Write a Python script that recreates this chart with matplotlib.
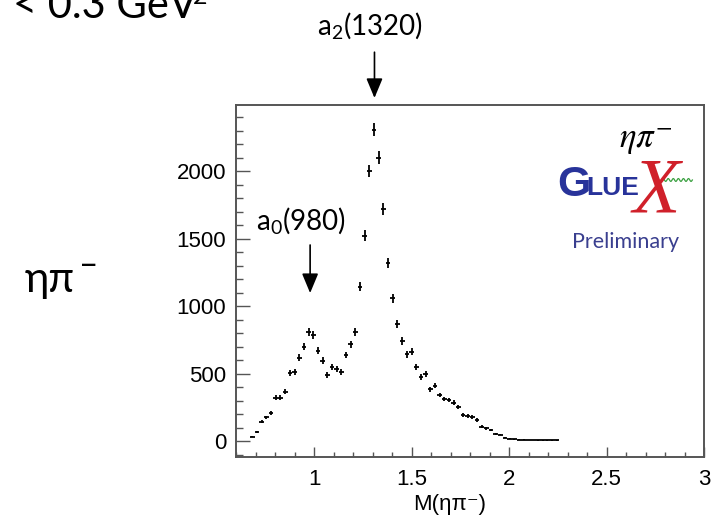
import numpy as np
import matplotlib
matplotlib.use("Agg")
import matplotlib.pyplot as plt

plt.rcParams['mathtext.fontset'] = 'custom'
plt.rcParams['mathtext.rm'] = 'Lato'
plt.rcParams['mathtext.it'] = 'Lato:italic'

# histogram binning: 100 bins over 0.6-3.0 GeV, filled bins 3..68
edges = np.linspace(0.6, 3.0, 101)
first_bin, last_bin = 3, 69
counts = [32, 69, 143, 175, 210, 321, 321, 365, 506, 513,
          617, 699, 810, 785, 669, 595, 489, 546, 533, 509,
          637, 716, 810, 1143, 1521, 2000, 2304, 2099, 1719, 1316,
          1057, 864, 741, 644, 662, 546, 472, 494, 383, 410,
          341, 311, 304, 284, 254, 192, 186, 176, 156, 106,
          94, 81, 50, 48, 25, 18, 14, 11, 9, 8,
          7, 6, 6, 5, 5, 5]

x_ticks = [1, 1.5, 2, 2.5, 3]
x_ticklabels = ['1', '1.5', '2', '2.5', '3']
y_ticks = [0, 500, 1000, 1500, 2000]

# resonance markers: (label, mass)
a0_label, a0_mass = 'a$_0$(980)', 0.98
a2_label, a2_mass = 'a$_2$(1320)', 1.31

lo = edges[first_bin:last_bin]
hi = edges[first_bin + 1:last_bin + 1]
centers = 0.5 * (lo + hi)
counts = np.array(counts, dtype=float)

fig = plt.figure(figsize=(7.12, 5.17), dpi=100)
ax = fig.add_axes([0.3315, 0.1161, 0.6573, 0.6808])

ax.errorbar(centers, counts, xerr=0.5 * (hi - lo), yerr=np.sqrt(counts),
            fmt='none', ecolor='black', elinewidth=1.3, capsize=0)

ax.set_xlim(0.6, 3.0)
ax.set_ylim(-118, 2489)
ax.set_xticks(x_ticks)
ax.set_xticklabels(x_ticklabels)
ax.set_yticks(y_ticks)
ax.set_xticks(np.arange(0.6, 3.0001, 0.1), minor=True)
ax.set_yticks(np.arange(-100, 2401, 100), minor=True)

frame_col = '#555555'
for s in ax.spines.values():
    s.set_color(frame_col)
    s.set_linewidth(1.4)
ax.tick_params(axis='both', which='both', direction='in', colors=frame_col,
               labelcolor='black', labelsize=16)
ax.tick_params(axis='x', which='major', length=7, width=1.0, pad=9)
ax.tick_params(axis='x', which='minor', length=3.5, width=1.0)
ax.tick_params(axis='y', which='major', length=10, width=1.0, pad=7)
ax.tick_params(axis='y', which='minor', length=5, width=1.0)
for lab in ax.get_xticklabels() + ax.get_yticklabels():
    lab.set_family('Liberation Sans')

fig.text(0.632, 0.025, 'M(ηπ⁻)', family=['Liberation Sans', 'DejaVu Sans'],
         fontsize=16, ha='center', va='center')

# resonance arrows
arrow = dict(arrowstyle='-|>,head_length=0.6,head_width=0.25',
             color='black', lw=1.2, mutation_scale=20, shrinkA=0, shrinkB=0)
ax.annotate('', xy=(a2_mass, 2541), xytext=(a2_mass, 2880),
            arrowprops=arrow, annotation_clip=False)
ax.text(1.285, 3081, a2_label, family='Lato', fontsize=20,
        ha='center', va='center', clip_on=False)
ax.annotate('', xy=(a0_mass, 1096), xytext=(a0_mass, 1452),
            arrowprops=arrow, annotation_clip=False)
ax.text(0.932, 1637, a0_label, family='Lato', fontsize=20,
        ha='center', va='center')

# channel label and collaboration logo
ax.text(0.875, 0.90, r'$\eta\pi^{-}$', transform=ax.transAxes, fontsize=25,
        ha='center', va='center', math_fontfamily='stix')
ax.text(0.722, 0.772, 'G', transform=ax.transAxes, fontsize=31,
        fontweight='heavy', family='Liberation Sans', color='#28339a',
        ha='center', va='center')
ax.text(0.805, 0.765, 'LUE', transform=ax.transAxes, fontsize=19,
        fontweight='bold', family='Liberation Sans', color='#28339a',
        ha='center', va='center')
ax.text(0.898, 0.752, 'X', transform=ax.transAxes, fontsize=56,
        style='italic', family='Liberation Serif', color='#d0202a',
        ha='center', va='center')
wx = np.linspace(0.91, 0.975, 120)
ax.plot(wx, 0.787 + 0.004 * np.sin((wx - 0.91) / 0.065 * 12 * np.pi),
        transform=ax.transAxes, color='#3aa040', lw=0.9)
ax.text(0.833, 0.612, 'Preliminary', transform=ax.transAxes, fontsize=15.5,
        family='Lato', color='#3a3f8f', ha='center', va='center')

# slide text around the plot
fig.text(13 / 712, 1 - 18 / 517, '< 0.3 GeV', family=['Lato', 'DejaVu Sans'],
         fontsize=30, ha='left', va='baseline')
fig.text(193 / 712, 1 - 4 / 517, '2', family='Lato',
         fontsize=18, ha='left', va='baseline')
fig.text(25 / 712, 1 - 292 / 517, 'ηπ', family=['Lato', 'Noto Sans', 'DejaVu Sans'],
         fontsize=30, ha='left', va='baseline')
fig.text(79 / 712, 1 - 275 / 517, '–', family='Lato',
         fontsize=24, ha='left', va='baseline')

fig.savefig('out.png', dpi=100)
